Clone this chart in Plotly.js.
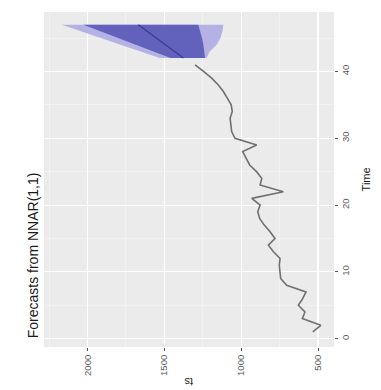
<!DOCTYPE html>
<html>
<head>
<meta charset="utf-8">
<script src="https://cdn.plot.ly/plotly-3.0.1.min.js"></script>
<style>html,body{margin:0;padding:0;background:#fff;}#chart{width:381px;height:390px;}</style>
</head>
<body>
<div id="chart"></div>
<script>
// observed series
var obsTime = [1,2,3,4,5,6,7,8,9,10,11,12,13,14,15,16,17,18,19,20,21,22,23,24,25,26,27,28,29,30,31,32,33,34,35,36,37,38,39,40,41];
var obsValue = [534,482,602,585,628,600,578,704,743,747,752,747,790,823,780,812,850,880,892,877,931,726,877,866,900,945,965,990,899,1040,1062,1068,1072,1058,1065,1090,1116,1150,1192,1245,1300];
// forecasts
var fcTime = [42,43,44,45,46,47];
var fcMean = [1376,1435,1494,1552,1611,1669];
var lo80 = [1235,1240,1246,1255,1266,1279];
var hi80 = [1460,1575,1690,1800,1915,2027];
var lo95 = [1225,1205,1160,1135,1122,1116];
var hi95 = [1530,1658,1785,1913,2040,2168];
var valueTicks = [500,1000,1500,2000];
var timeTicks = [0,10,20,30,40];
var titleText = 'Forecasts from NNAR(1,1)';
var xTitle = 'Time';
var yTitle = 'ts';

function band(lo, hi) {
  return {
    x: lo.concat(hi.slice().reverse()),
    y: fcTime.concat(fcTime.slice().reverse())
  };
}
var b95 = band(lo95, hi95), b80 = band(lo80, hi80);

var traces = [
  {x: b95.x, y: b95.y, type: 'scatter', mode: 'lines', fill: 'toself',
   fillcolor: 'rgb(180,178,228)', line: {width: 0}, hoverinfo: 'skip'},
  {x: b80.x, y: b80.y, type: 'scatter', mode: 'lines', fill: 'toself',
   fillcolor: 'rgb(98,98,188)', line: {width: 0}, hoverinfo: 'skip'},
  {x: fcMean, y: fcTime, type: 'scatter', mode: 'lines',
   line: {color: 'rgb(58,58,150)', width: 1.3}},
  {x: obsValue, y: obsTime, type: 'scatter', mode: 'lines',
   line: {color: '#707070', width: 1.6}}
];

var tickFont = {family: 'Liberation Sans, Arial, sans-serif', size: 9.5, color: '#5a5a5a'};
var layout = {
  width: 381, height: 390,
  margin: {l: 44, r: 47, t: 12, b: 43, pad: 0},
  paper_bgcolor: '#ffffff',
  plot_bgcolor: '#ebebeb',
  showlegend: false,
  xaxis: {
    range: [2283, 396],
    tickvals: valueTicks, ticktext: valueTicks.map(String),
    tickangle: -90, tickfont: tickFont,
    ticks: 'outside', ticklen: 3, tickcolor: '#555', tickwidth: 1,
    showgrid: true, gridcolor: '#ffffff', gridwidth: 1.1,
    minor: {dtick: 250, tick0: 0, showgrid: true, gridcolor: '#f6f6f6', gridwidth: 0.6},
    zeroline: false, showline: false
  },
  yaxis: {
    range: [-1.25, 48.9],
    tickvals: timeTicks, ticktext: timeTicks.map(String),
    tickangle: -90, tickfont: tickFont,
    side: 'right',
    ticks: 'outside', ticklen: 3, tickcolor: '#555', tickwidth: 1,
    showgrid: true, gridcolor: '#ffffff', gridwidth: 1.1,
    minor: {dtick: 5, tick0: 0, showgrid: true, gridcolor: '#f6f6f6', gridwidth: 0.6},
    zeroline: false, showline: false
  },
  annotations: [
    {text: titleText, xref: 'paper', yref: 'paper', x: -0.038, y: 0.02,
     xanchor: 'center', yanchor: 'bottom', textangle: -90, showarrow: false,
     font: {family: 'Liberation Sans, Arial, sans-serif', size: 14, color: '#1a1a1a'}},
    {text: xTitle, xref: 'paper', yref: 'paper', x: 1.11, y: 0.5,
     xanchor: 'center', yanchor: 'middle', textangle: -90, showarrow: false,
     font: {family: 'Liberation Sans, Arial, sans-serif', size: 11, color: '#1a1a1a'}},
    {text: yTitle, xref: 'paper', yref: 'paper', x: 0.5, y: -0.105,
     xanchor: 'center', yanchor: 'middle', textangle: 180, showarrow: false,
     font: {family: 'Liberation Sans, Arial, sans-serif', size: 11, color: '#1a1a1a'}}
  ]
};

Plotly.newPlot('chart', traces, layout, {staticPlot: true, displayModeBar: false});
</script>
</body>
</html>
